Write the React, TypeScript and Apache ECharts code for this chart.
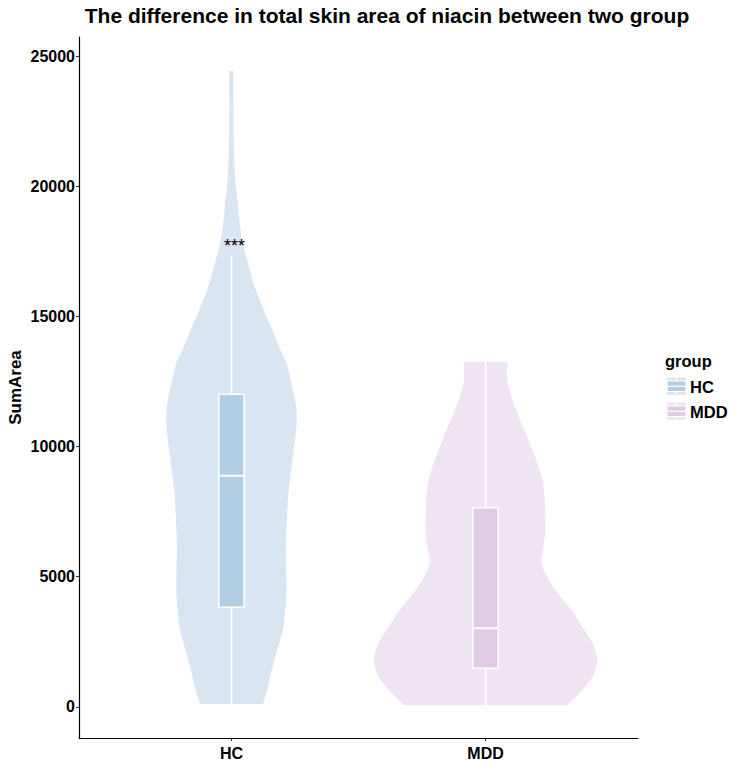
import React, { useEffect, useRef } from "react";
import * as echarts from "echarts";

// ---- Data ----
const groups = ["HC", "MDD"];
const groupPositions = [1, 2];
const boxColors = ["#B3CDE3", "#DECBE4"];
const violinColors = ["#D9E6F1", "#EFE5F2"];

// violin outline: value (y) and half width (x axis units), top to bottom
const hcViolinY = [24446, 23330, 21407, 20139, 19485, 18831, 17870, 17062, 16293, 15755, 14986, 14486, 13794, 13217, 11910, 11410, 10756, 9487, 8218, 6296, 4374, 3067, 1799, 530, 108];
const hcViolinHalfWidth = [0.0079, 0.0079, 0.0098, 0.0157, 0.0236, 0.0295, 0.0433, 0.0649, 0.0866, 0.1063, 0.1377, 0.1614, 0.1889, 0.2165, 0.2479, 0.2558, 0.2558, 0.2401, 0.2243, 0.2145, 0.2165, 0.2046, 0.1692, 0.1377, 0.124];
const mddViolinY = [13256, 12564, 11910, 11295, 10641, 9987, 9372, 8718, 8064, 6796, 6142, 5527, 4989, 4374, 3721, 3067, 2452, 1799, 1146, 530, 69];
const mddViolinHalfWidth = [0.0866, 0.0846, 0.1023, 0.1248, 0.1535, 0.1798, 0.2046, 0.2243, 0.2322, 0.2361, 0.2283, 0.2204, 0.242, 0.2834, 0.3385, 0.3817, 0.4211, 0.4408, 0.4211, 0.3699, 0.3227];

// box stats: [lower whisker, Q1, median, Q3, upper whisker]
const hcBox = [108, 3825, 8885, 12014, 17331];
const mddBox = [69, 1480, 3018, 7654, 13256];

const yTicks = [0, 5000, 10000, 15000, 20000, 25000];
const sigLabel = "***";
const sigY = 17700;

const titleText = "The difference in total skin area of niacin between two group";
const yAxisName = "SumArea";
const legendTitle = "group";

const FONT = "'Liberation Sans', Arial, Helvetica, sans-serif";

export default function App() {
  const ref = useRef<HTMLDivElement>(null);

  useEffect(() => {
    if (!ref.current) return;
    const chart = echarts.init(ref.current, undefined, { renderer: "svg" });
    const violinYs = [hcViolinY, mddViolinY];
    const violinHWs = [hcViolinHalfWidth, mddViolinHalfWidth];
    const boxes = [hcBox, mddBox];
    const boxHalf = 0.05;

    const renderItem = (params: any, api: any) => {
      const gi = params.dataIndex;
      const x0 = api.value(0);
      const ys = violinYs[gi];
      const hw = violinHWs[gi];
      const n = ys.length;
      const right = ys.map((y, i) => api.coord([x0 + hw[i], y]));
      const left = ys.map((y, i) => api.coord([x0 - hw[i], y])).reverse();
      // duplicate the corner points so the flat top and bottom stay sharp
      const points = [
        right[0],
        ...right,
        right[n - 1],
        left[0],
        ...left,
        left[n - 1],
      ];
      const [lo, q1, med, q3, hi] = boxes[gi];
      const p = (x: number, y: number) => api.coord([x, y]);
      const tl = p(x0 - boxHalf, q3);
      const br = p(x0 + boxHalf, q1);
      const mL = p(x0 - boxHalf, med);
      const mR = p(x0 + boxHalf, med);
      const wTop = p(x0, hi);
      const wQ3 = p(x0, q3);
      const wQ1 = p(x0, q1);
      const wLo = p(x0, lo);
      const white = { stroke: "#ffffff", lineWidth: 1.6 };
      const children: any[] = [
        { type: "polygon", shape: { points, smooth: 0.2 }, style: { fill: violinColors[gi] } },
        { type: "line", shape: { x1: wTop[0], y1: wTop[1], x2: wQ3[0], y2: wQ3[1] }, style: white },
        { type: "line", shape: { x1: wQ1[0], y1: wQ1[1], x2: wLo[0], y2: wLo[1] }, style: white },
        {
          type: "rect",
          shape: { x: tl[0], y: tl[1], width: br[0] - tl[0], height: br[1] - tl[1] },
          style: { fill: boxColors[gi], stroke: "#ffffff", lineWidth: 1.6 },
        },
        { type: "line", shape: { x1: mL[0], y1: mL[1], x2: mR[0], y2: mR[1] }, style: { stroke: "#ffffff", lineWidth: 2 } },
      ];
      if (gi === 0) {
        const s = p(x0, sigY);
        children.push({
          type: "text",
          x: s[0] + 3,
          y: s[1],
          style: { text: sigLabel, fill: "#000", font: `18px ${FONT}`, align: "center", verticalAlign: "middle" },
        });
      }
      return { type: "group", children };
    };

    const legendGraphics: any[] = [
      {
        type: "text",
        x: 665,
        y: 361,
        style: { text: legendTitle, fill: "#000", font: `bold 16.5px ${FONT}`, verticalAlign: "middle" },
      },
    ];
    groups.forEach((g, i) => {
      const y0 = 377.5 + i * 25;
      legendGraphics.push(
        { type: "rect", shape: { x: 667, y: y0, width: 19, height: 17.5 }, style: { fill: violinColors[i] } },
        { type: "rect", shape: { x: 667, y: y0 + 3.5, width: 19, height: 10.5 }, style: { fill: boxColors[i], stroke: "#fff", lineWidth: 1.2 } },
        { type: "line", shape: { x1: 667, y1: y0 + 8.75, x2: 686, y2: y0 + 8.75 }, style: { stroke: "#fff", lineWidth: 1.2 } },
        { type: "line", shape: { x1: 676.5, y1: y0, x2: 676.5, y2: y0 + 3.5 }, style: { stroke: "#fff", lineWidth: 1.2 } },
        { type: "line", shape: { x1: 676.5, y1: y0 + 14, x2: 676.5, y2: y0 + 17.5 }, style: { stroke: "#fff", lineWidth: 1.2 } },
        {
          type: "text",
          x: 690,
          y: y0 + 9,
          style: { text: g, fill: "#000", font: `bold 16.5px ${FONT}`, verticalAlign: "middle" },
        }
      );
    });

    chart.setOption({
      animation: false,
      backgroundColor: "#ffffff",
      grid: { left: 79, right: 106, top: 37, bottom: 34, outerBoundsMode: "none" },
      xAxis: {
        type: "value",
        min: 0.4,
        max: 2.6,
        splitLine: { show: false },
        axisLine: { show: true, onZero: false, lineStyle: { color: "#000", width: 1.2 } },
        axisTick: { show: true, customValues: groupPositions, length: 3, lineStyle: { color: "#333" } },
        axisLabel: {
          customValues: groupPositions,
          formatter: (v: number) => groups[Math.round(v) - 1] ?? "",
          color: "#000",
          fontWeight: "bold",
          fontSize: 16,
          fontFamily: FONT,
          margin: 7,
        },
      },
      yAxis: {
        type: "value",
        min: -1200,
        max: 25750,
        name: yAxisName,
        nameLocation: "middle",
        nameRotate: 90,
        nameGap: 55,
        nameMoveOverlap: false,
        nameTextStyle: { color: "#000", fontWeight: "bold", fontSize: 17, fontFamily: FONT },
        splitLine: { show: false },
        axisLine: { show: true, onZero: false, lineStyle: { color: "#000", width: 1.2 } },
        axisTick: { show: true, customValues: yTicks, length: 3, lineStyle: { color: "#333" } },
        axisLabel: {
          customValues: yTicks,
          formatter: (v: number) => String(v),
          color: "#000",
          fontWeight: "bold",
          fontSize: 16,
          fontFamily: FONT,
          margin: 4,
        },
      },
      graphic: [
        {
          type: "text",
          x: 387,
          y: 15,
          style: { text: titleText, fill: "#000", font: `bold 21px ${FONT}`, align: "center", verticalAlign: "middle" },
        },
        ...legendGraphics,
      ],
      series: [
        {
          type: "custom",
          name: "violin",
          renderItem,
          data: groupPositions.map((x) => [x]),
          encode: { x: 0 },
        },
      ],
    });
    return () => chart.dispose();
  }, []);

  return <div ref={ref} style={{ position: "absolute", left: 0, top: 0, width: 744, height: 772 }} />;
}
